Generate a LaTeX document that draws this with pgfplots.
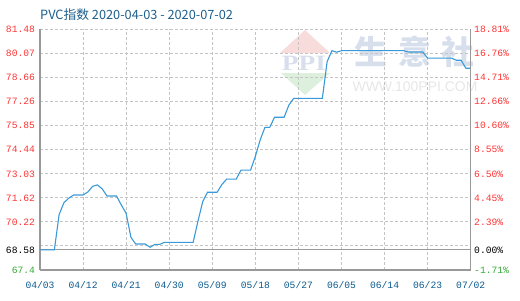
\documentclass[border=0pt]{standalone}
\usepackage{pgfplots}
\pgfplotsset{compat=1.18}
\usepackage{fontspec}
\setmainfont{Liberation Sans}
\setmonofont{Liberation Mono}
\newfontfamily\cjk{Noto Sans CJK SC}
\newfontfamily\serifwm{Liberation Serif}
\definecolor{lineblue}{HTML}{3A9AD9}
\definecolor{tickred}{HTML}{FF3333}
\definecolor{tickgreen}{HTML}{33AA33}
\definecolor{xlab}{HTML}{0B5A8F}
\definecolor{titleblue}{HTML}{1E5F8C}
\definecolor{gridgray}{HTML}{C4C4C4}
\definecolor{axisgray}{HTML}{999999}
\definecolor{wmpink}{HTML}{F8DCDC}
\definecolor{wmgreen}{HTML}{DDF0DE}
\definecolor{wmblue}{HTML}{D8DFEC}
\definecolor{wmgray}{HTML}{E6E6E6}

\pgfplotstableread{
day val
0 68.58
1 68.58
2 68.58
3 68.58
4 70.65
5 71.34
6 71.60
7 71.79
8 71.79
9 71.79
10 71.97
11 72.30
12 72.38
13 72.15
14 71.73
15 71.73
16 71.73
17 71.20
18 70.72
19 69.31
20 68.92
21 68.92
22 68.92
23 68.73
24 68.90
25 68.90
26 69.02
27 69.02
28 69.02
29 69.02
30 69.02
31 69.02
32 69.02
33 70.25
34 71.40
35 71.95
36 71.95
37 71.95
38 72.40
39 72.72
40 72.72
41 72.72
42 73.25
43 73.25
44 73.25
45 74.05
46 75.01
47 75.75
48 75.75
49 76.34
50 76.34
51 76.34
52 77.05
53 77.45
54 77.45
55 77.45
56 77.45
57 77.45
58 77.45
59 77.45
60 79.60
61 80.24
62 80.15
63 80.24
64 80.24
65 80.24
66 80.24
67 80.24
68 80.24
69 80.24
70 80.24
71 80.24
72 80.24
73 80.24
74 80.24
75 80.24
76 80.24
77 80.16
78 80.16
79 80.16
80 80.16
81 79.80
82 79.80
83 79.80
84 79.80
85 79.80
86 79.80
87 79.68
88 79.68
89 79.21
90 79.21
}\pvcdata

\begin{document}
\begin{tikzpicture}[x=1bp,y=1bp]
\path[use as bounding box] (0,0) rectangle (520,300);
% watermark
\fill[wmpink] (305,270) -- (330,247) -- (280,247) -- cycle;
\fill[wmgreen] (281,227) -- (330,227) -- (305,205) -- cycle;
\node[inner sep=0, font=\serifwm\bfseries\fontsize{22}{22}\selectfont, text=wmblue, xscale=1.25] at (304,237) {PPI};
\node[inner sep=0, font=\cjk\bfseries\fontsize{33}{33}\selectfont, text=wmblue] at (371,248) {生};
\node[inner sep=0, font=\cjk\bfseries\fontsize{33}{33}\selectfont, text=wmblue] at (415,248) {意};
\node[inner sep=0, font=\cjk\bfseries\fontsize{33}{33}\selectfont, text=wmblue] at (458,248) {社};
\node[inner sep=0, font=\fontsize{14}{14}\selectfont, text=wmgray] at (415,213) {WWW.100PPI.COM};
% title
\node[anchor=west, inner sep=0, font=\cjk\fontsize{12.8}{12.8}\selectfont, text=titleblue] at (40,285) {PVC指数 2020-04-03 - 2020-07-02};

\begin{axis}[
  at={(40bp,30bp)}, anchor=south west,
  scale only axis, width=430.7bp, height=240.5bp,
  xmin=0, xmax=90, ymin=67.4, ymax=81.48,
  axis x line*=bottom, axis y line*=left,
  axis line style={axisgray, line width=1.2bp},
  major tick length=0,
  xtick={0,9,...,90},
  xticklabels={04/03,04/12,04/21,04/30,05/09,05/18,05/27,06/05,06/14,06/23,07/02},
  xticklabel style={font=\ttfamily\fontsize{9.7}{10}\selectfont, text=xlab, yshift=-8bp},
  ytick={67.4,68.58,68.81,70.22,71.62,73.03,74.44,75.85,77.26,78.66,80.07,81.48},
  yticklabels={\textcolor{tickgreen}{67.4},\textcolor{black}{68.58},{},\textcolor{tickred}{70.22},\textcolor{tickred}{71.62},\textcolor{tickred}{73.03},\textcolor{tickred}{74.44},\textcolor{tickred}{75.85},\textcolor{tickred}{77.26},\textcolor{tickred}{78.66},\textcolor{tickred}{80.07},\textcolor{tickred}{81.48}},
  yticklabel style={font=\ttfamily\fontsize{9.7}{10}\selectfont, xshift=-1.5bp},
  grid=major,
  major grid style={gridgray, dash pattern=on 3bp off 2bp, line width=1bp},
]
\addplot[axisgray, line width=1.2bp, forget plot] coordinates {(0,68.58) (90,68.58)};
\addplot[lineblue, line width=1.1bp, mark=none] table[x=day, y=val] {\pvcdata};
\end{axis}

\begin{axis}[
  at={(40bp,30bp)}, anchor=south west,
  scale only axis, width=430.7bp, height=240.5bp,
  xmin=0, xmax=90, ymin=67.4, ymax=81.48,
  axis x line=none, axis y line*=right,
  axis line style={axisgray, line width=1.2bp},
  major tick length=0,
  ytick={67.4,68.58,70.22,71.62,73.03,74.44,75.85,77.26,78.66,80.07,81.48},
  yticklabels={\textcolor{tickgreen}{-1.71\%},\textcolor{black}{0.00\%},\textcolor{tickred}{2.39\%},\textcolor{tickred}{4.45\%},\textcolor{tickred}{6.50\%},\textcolor{tickred}{8.55\%},\textcolor{tickred}{10.60\%},\textcolor{tickred}{12.66\%},\textcolor{tickred}{14.71\%},\textcolor{tickred}{16.76\%},\textcolor{tickred}{18.81\%}},
  yticklabel style={font=\ttfamily\fontsize{9.7}{10}\selectfont, xshift=0bp},
]
\addplot[draw=none] coordinates {(0,70) (90,70)};
\end{axis}
\end{tikzpicture}
\end{document}
